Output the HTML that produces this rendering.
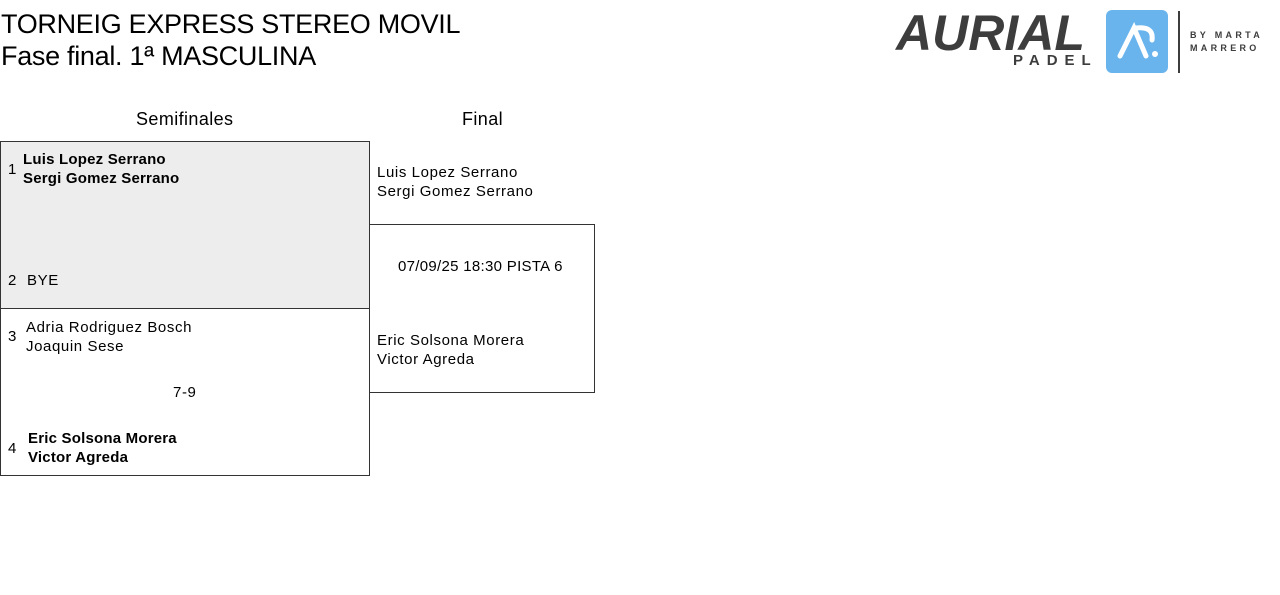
<!DOCTYPE html>
<html><head><meta charset="utf-8"><style>
body{margin:0;width:1280px;height:595px;background:#fff;font-family:"Liberation Sans",sans-serif;color:#000;position:relative;overflow:hidden}
.a{position:absolute;white-space:nowrap}
.t{font-size:15px;letter-spacing:0.6px}
.b{font-weight:bold;letter-spacing:0.2px}
</style></head><body>
<div class="a" style="left:1px;top:8px;font-size:27px;line-height:32px;letter-spacing:-0.3px">TORNEIG EXPRESS STEREO MOVIL<br>Fase final. 1ª MASCULINA</div>
<div class="a" style="left:896px;top:4px;font-size:50px;font-weight:bold;font-style:italic;color:#3d3d3d;letter-spacing:0px">AURIAL</div>
<div class="a" style="left:1013px;top:52px;font-size:15px;font-weight:bold;color:#3d3d3d;letter-spacing:7px">PADEL</div>
<div class="a" style="left:1106px;top:10px;width:62px;height:63px;background:#6ab4ee;border-radius:6px"></div>
<svg class="a" style="left:1106px;top:10px" width="62" height="63"><path d="M14 46 L28 18 L40 46" stroke="#fff" stroke-width="5" fill="none" stroke-linecap="round"/><path d="M30 18 Q48 16 46 30" stroke="#fff" stroke-width="5" fill="none" stroke-linecap="round"/><circle cx="49" cy="44" r="3" fill="#fff"/></svg>
<div class="a" style="left:1178px;top:11px;width:2px;height:62px;background:#3d3d3d"></div>
<div class="a" style="left:1190px;top:29px;font-size:9px;font-weight:bold;color:#3d3d3d;letter-spacing:3.3px;line-height:13px">BY MARTA<br>MARRERO</div>

<div class="a" style="left:136px;top:109px;font-size:18px;letter-spacing:0.4px">Semifinales</div>
<div class="a" style="left:462px;top:109px;font-size:18px;letter-spacing:0.4px">Final</div>

<div class="a" style="left:0;top:141px;width:368px;height:166px;background:#ededed;border:1px solid #333"></div>
<div class="a" style="left:0;top:308px;width:368px;height:167px;border:1px solid #333;border-top:none"></div>
<div class="a" style="left:369px;top:224px;width:224px;height:167px;border:1px solid #333"></div>

<div class="a t" style="left:8px;top:161px">1</div>
<div class="a t b" style="left:23px;top:150px;line-height:19px">Luis Lopez Serrano<br>Sergi Gomez Serrano</div>
<div class="a t" style="left:8px;top:272px">2</div>
<div class="a t" style="left:27px;top:272px">BYE</div>
<div class="a t" style="left:8px;top:328px">3</div>
<div class="a t" style="left:26px;top:318px;line-height:19px">Adria Rodriguez Bosch<br>Joaquin Sese</div>
<div class="a t" style="left:173px;top:384px">7-9</div>
<div class="a t" style="left:8px;top:440px">4</div>
<div class="a t b" style="left:28px;top:429px;line-height:19px">Eric Solsona Morera<br>Victor Agreda</div>

<div class="a t" style="left:377px;top:163px;line-height:19px">Luis Lopez Serrano<br>Sergi Gomez Serrano</div>
<div class="a t" style="left:398px;top:258px;letter-spacing:0.3px">07/09/25 18:30 PISTA 6</div>
<div class="a t" style="left:377px;top:331px;line-height:19px">Eric Solsona Morera<br>Victor Agreda</div>
</body></html>
